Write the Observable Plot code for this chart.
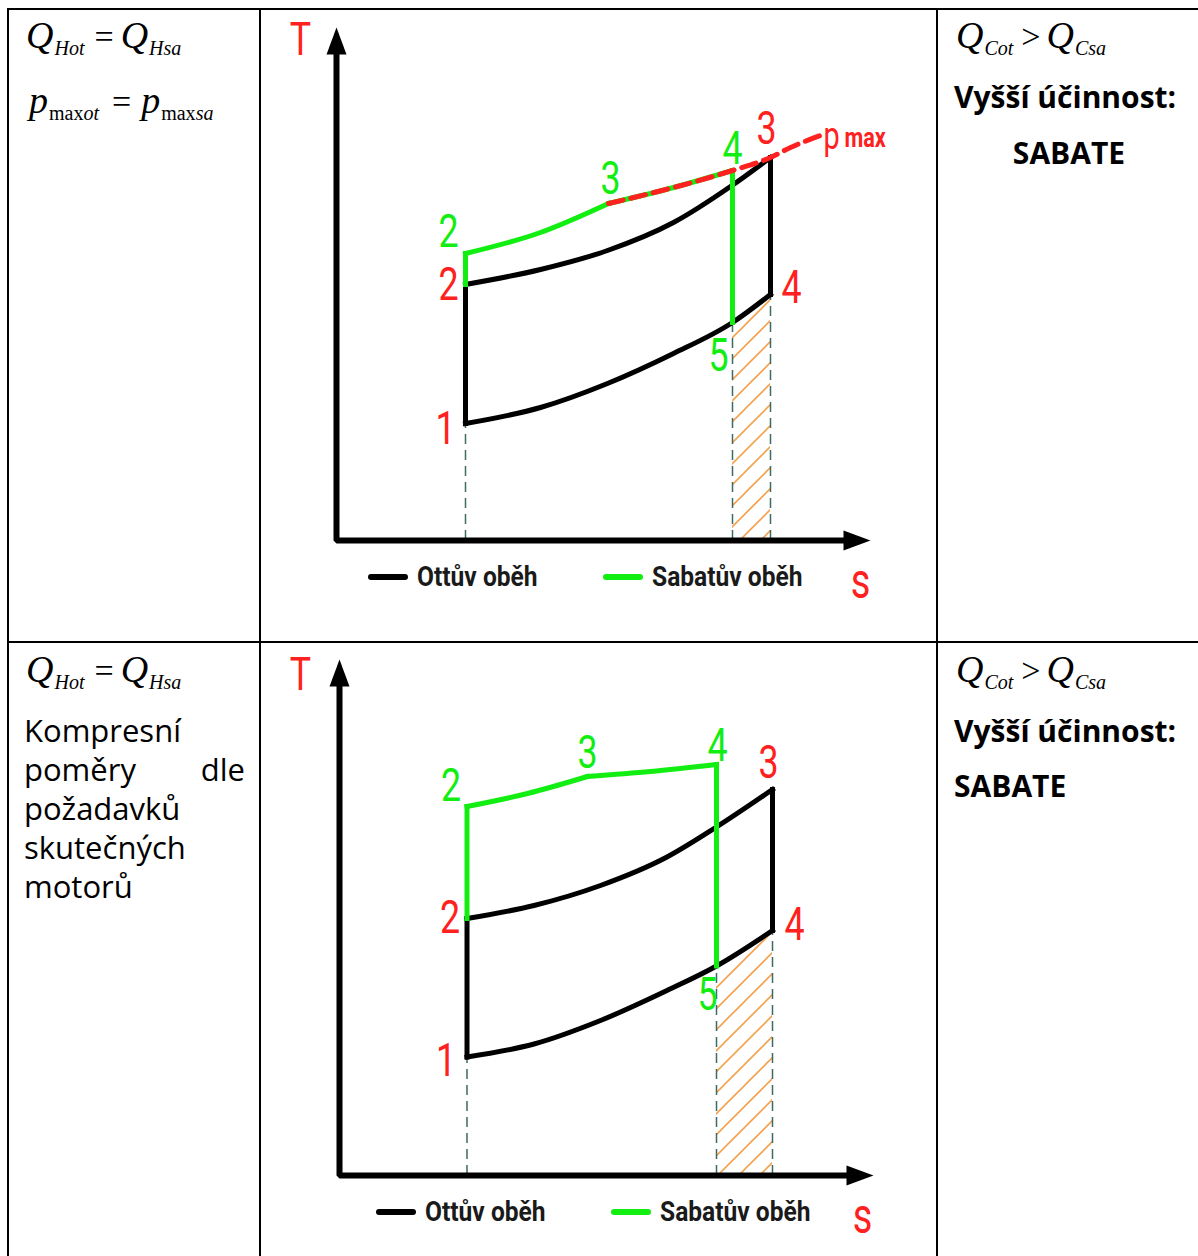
<!DOCTYPE html>
<html lang="cs">
<head>
<meta charset="utf-8">
<title>Ottův a Sabatův oběh v T–s diagramu</title>
<script src="https://cdn.jsdelivr.net/npm/d3@7"></script>
<script src="https://cdn.jsdelivr.net/npm/@observablehq/plot@0.6"></script>
<style>
  html, body { margin: 0; padding: 0; background: #fff; }
  #page { position: relative; width: 1198px; height: 1256px; overflow: hidden; }
  .rule { position: absolute; background: #000; }
  .abs { position: absolute; white-space: nowrap; }
  .math { font-family: "Liberation Serif", "Times New Roman", serif; font-size: 38px; line-height: 38px; color: #000; }
  .math i { font-style: italic; }
  .math .sub { font-size: 20px; position: relative; top: 7px; margin-left: 1px; }
  .math .op { display: inline-block; margin: 0 7px 0 10px; font-size: 34px; }
  .math.wide .op { margin: 0 10px 0 13px; }
  .math.tight .op { margin: 0 6px 0 8px; }
  .note { font-family: "Open Sans", sans-serif; font-size: 31px; line-height: 39px; color: #000; text-align: justify; white-space: normal; }
  .verdict { font-family: "Open Sans", sans-serif; font-weight: 700; font-size: 30px; line-height: 30px; color: #000; }
  .legend { position: absolute; display: flex; align-items: center; height: 30px;
            font-family: "Roboto", sans-serif; font-weight: 700; font-size: 27px; color: #1a1a1a; white-space: nowrap; }
  .legend .item { display: flex; align-items: center; width: 235px; }
  .legend .sw { width: 40px; height: 6px; border-radius: 3px; margin-right: 9px; flex: none; }
  .legend .name { display: inline-block; transform: scaleX(0.91); transform-origin: 0 50%; }
</style>
</head>
<body>
<div id="page"></div>
<script>
// ---------- T–s diagrams: drawing units, 1 unit = 5 px on both axes ----------

// Diagram A – both cycles reach the same peak pressure p_max
const sAxisA = 106.8, TAxisA = 102.6;
const ottoStatesA = [
  {n: "1", s: 25.8, T: 23.4}, {n: "2", s: 25.8, T: 51.2},
  {n: "3", s: 86.8, T: 76.6}, {n: "4", s: 86.8, T: 49.2}
];
const sabateStatesA = [
  {n: "2", s: 25.8, T: 57.4}, {n: "3", s: 54.4, T: 67.4},
  {n: "4", s: 79.2, T: 74.0}, {n: "5", s: 79.2, T: 43.6}
];
const ottoHeatA = [[25.8, 51.2], [40.8, 54.2], [54.2, 58.0], [67.4, 63.6], [78.8, 70.8], [86.8, 76.6]];
const ottoRejectA = [[25.8, 23.4], [40.8, 26.6], [54.2, 31.4], [67.4, 37.4], [79.2, 43.6], [86.8, 49.2]];
const sabateIsochoreA = [[25.8, 57.4], [40.8, 61.6], [54.4, 67.4]];
const sabateIsobarA = [[54.4, 67.4], [67.4, 70.6], [79.2, 74.0]];
const pmaxA = [[54.4, 67.4], [67.4, 70.6], [79.2, 74.0], [86.8, 76.6], [90.8, 78.6], [96.8, 81.0]];

// Diagram B – compression ratios as used in real engines
const sAxisB = 106.8, TAxisB = 103.2;
const ottoStatesB = [
  {n: "1", s: 25.5, T: 23.7}, {n: "2", s: 25.5, T: 51.4},
  {n: "3", s: 86.6, T: 77.2}, {n: "4", s: 86.6, T: 49.0}
];
const sabateStatesB = [
  {n: "2", s: 25.5, T: 73.8}, {n: "3", s: 49.6, T: 79.8},
  {n: "4", s: 75.4, T: 82.2}, {n: "5", s: 75.4, T: 41.9}
];
const ottoHeatB = [[25.5, 51.4], [38.9, 54.0], [52.2, 58.0], [65.5, 63.7], [75.4, 69.7], [86.6, 77.2]];
const ottoRejectB = [[25.5, 23.7], [38.9, 26.3], [52.2, 31.0], [65.5, 37.0], [75.4, 41.9], [86.6, 49.0]];
const sabateIsochoreB = [[25.5, 73.8], [37.6, 76.4], [49.6, 79.8]];
const sabateIsobarB = [[49.6, 79.8], [62.2, 80.8], [75.4, 82.2]];

// Text of the table cells
const legendNames = ["Ottův oběh", "Sabatův oběh"];
const verdictTitle = "Vyšší účinnost:";
const verdictName = "SABATE";
const noteB = "Kompresní poměry dle požadavků skutečných motorů";

// ---------- styling ----------
const BLACK = "#000", GREEN = "#12ee12", RED = "#ff2020", GUIDE = "#3d6a63", HATCH = "#f4a24e";
const labelFont = {fontFamily: "Roboto, sans-serif", fontWeight: 400, fontSize: 47};
const NARROW = 0.76; // technical lettering is narrower than the available faces

// filled, elongated arrow head; tip at the origin, pointing up
const arrowHead = {
  draw(ctx) { ctx.moveTo(0, 0); ctx.lineTo(10, 27); ctx.lineTo(-10, 27); ctx.closePath(); }
};

const layoutA = {
  id: "hatchA", left: 262, top: 10, width: 674, height: 630, ox: 74, oy: 530,
  ottoLabels: [[-20, 5], [-17, 0], [-4, -29], [21, -7]],
  sabateLabels: [[-17, -22], [2, -25], [0, -22], [-14, 33]],
  tLabel: [-36, 12], sLabel: [-10, 41], pLabel: [11, 1], maxLabel: [24, 3],
  legend: {left: 368, cy: 577}
};
const layoutB = {
  id: "hatchB", left: 262, top: 644, width: 674, height: 612, ox: 77, oy: 531,
  ottoLabels: [[-21, 4], [-17, -1], [-4, -27], [22, -6]],
  sabateLabels: [[-16, -21], [0, -24], [1, -19], [-9, 29]],
  tLabel: [-39, 15], sLabel: [-11, 41],
  legend: {left: 376, cy: 1212}
};

function tsDiagram(d, L) {
  const [o1, o2, o3, o4] = d.otto;
  const [a2, , a4, a5] = d.sabate;
  const X = p => p[0], Y = p => p[1];
  const hatch = d.reject.filter(p => p[0] >= a5.s - 1e-9);
  const shaft = 4; // axis shafts stop inside the arrow heads
  const axes = [[0, d.TAxis - shaft], [0, 0], [d.sAxis - shaft, 0]];
  const seg = (a, b) => [[a.s, a.T], [b.s, b.T]];
  const stroke = (color, extra = {}) => ({x: X, y: Y, stroke: color, strokeWidth: 5, strokeLinecap: "square", ...extra});
  const labels = (states, offs, color) => states.map((p, i) =>
    Plot.text([p], {x: "s", y: "T", text: "n", dx: offs[i][0], dy: offs[i][1], fill: color, ...labelFont}));

  const marks = [
    Plot.areaY(hatch, {x: X, y1: 0, y2: Y, fill: `url(#${L.id})`}),
    Plot.ruleX([o1, a5, o4], {x: "s", y1: 0, y2: "T", stroke: GUIDE, strokeWidth: 1.5, strokeDasharray: "10,6"}),
    Plot.line(axes, {x: X, y: Y, stroke: BLACK, strokeWidth: 6, strokeLinejoin: "miter"}),
    Plot.dot([{s: 0, T: d.TAxis, a: 0}, {s: d.sAxis, T: 0, a: 90}],
      {x: "s", y: "T", symbol: arrowHead, rotate: "a", fill: BLACK, stroke: "none"}),
    // Otto cycle 1-2-3-4
    Plot.line(seg(o1, o2), stroke(BLACK)),
    Plot.line(d.heat, stroke(BLACK, {curve: "monotone-x"})),
    Plot.line(seg(o3, o4), stroke(BLACK)),
    Plot.line(d.reject, stroke(BLACK, {curve: "monotone-x"})),
    // Sabathé cycle 1-2-3-4-5 (parts that differ from Otto)
    Plot.line(seg(o2, a2), stroke(GREEN)),
    Plot.line(d.isochore, stroke(GREEN, {curve: "monotone-x"})),
    Plot.line(d.isobar, stroke(GREEN, {curve: "monotone-x"})),
    Plot.line(seg(a4, a5), stroke(GREEN))
  ];
  if (d.pmax) {
    const end = d.pmax[d.pmax.length - 1];
    marks.push(
      Plot.line(d.pmax, {x: X, y: Y, stroke: RED, strokeWidth: 5, strokeDasharray: "15,8", curve: "monotone-x"}),
      Plot.text([end], {x: X, y: Y, text: () => "p", dx: L.pLabel[0], dy: L.pLabel[1], fill: RED, ...labelFont, fontSize: 38}),
      Plot.text([end], {x: X, y: Y, text: () => "max", dx: L.maxLabel[0], dy: L.maxLabel[1], textAnchor: "start",
        fill: RED, fontFamily: labelFont.fontFamily, fontWeight: "bold", fontSize: 27})
    );
  }
  marks.push(
    ...labels(d.otto, L.ottoLabels, RED),
    ...labels(d.sabate, L.sabateLabels, GREEN),
    Plot.text([[0, d.TAxis]], {x: X, y: Y, text: () => "T", dx: L.tLabel[0], dy: L.tLabel[1], fill: RED, ...labelFont}),
    Plot.text([[d.sAxis, 0]], {x: X, y: Y, text: () => "s", dx: L.sLabel[0], dy: L.sLabel[1], fill: RED, ...labelFont, fontSize: 50})
  );

  const svg = Plot.plot({
    width: L.width, height: L.height,
    x: {domain: [0, 100], range: [L.ox, L.ox + 500], axis: null},
    y: {domain: [0, 100], range: [L.oy, L.oy - 500], axis: null},
    style: {background: "transparent", overflow: "visible", maxWidth: "none"},
    marks
  });
  const defs = document.createElementNS("http://www.w3.org/2000/svg", "defs");
  defs.innerHTML = `<pattern id="${L.id}" patternUnits="userSpaceOnUse" width="21" height="21">
      <path d="M0,21L21,0M-3,3L3,-3M18,24L24,18" stroke="${HATCH}" stroke-width="1.6" fill="none"/></pattern>`;
  svg.insertBefore(defs, svg.firstChild);
  Object.assign(svg.style, {position: "absolute", left: L.left + "px", top: L.top + "px"});
  return svg;
}

// squeeze the lettering horizontally once it is laid out
function condense(svg) {
  svg.querySelectorAll("text").forEach(t => {
    const w = t.getComputedTextLength();
    if (w > 0) {
      t.setAttribute("textLength", (w * (t.textContent === "max" ? 0.8 : NARROW)).toFixed(1));
      t.setAttribute("lengthAdjust", "spacingAndGlyphs");
    }
  });
}

function legend(L) {
  const el = document.createElement("div");
  el.className = "legend";
  el.style.left = L.legend.left + "px";
  el.style.top = (L.legend.cy - 15) + "px";
  [BLACK, GREEN].forEach((c, i) => {
    const item = document.createElement("div");
    item.className = "item";
    item.innerHTML = `<span class="sw" style="background:${c}"></span><span class="name">${legendNames[i]}</span>`;
    el.appendChild(item);
  });
  return el;
}

const page = document.getElementById("page");
function place(html, cls, left, top, extra = "") {
  const el = document.createElement("div");
  el.className = "abs " + cls;
  el.style.cssText += `left:${left}px;top:${top}px;${extra}`;
  el.innerHTML = html;
  page.appendChild(el);
  return el;
}

// table grid
const rules = [
  {l: 7, t: 8, w: 1191, h: 2},     // top
  {l: 7, t: 8, w: 2, h: 1248},     // left
  {l: 259, t: 8, w: 2, h: 1248},   // after first column
  {l: 936, t: 8, w: 2, h: 1248},   // after second column
  {l: 7, t: 641, w: 1191, h: 2}    // between rows
];
rules.forEach(r => {
  const el = document.createElement("div");
  el.className = "rule";
  el.style.cssText = `left:${r.l}px;top:${r.t}px;width:${r.w}px;height:${r.h}px`;
  page.appendChild(el);
});

// formulas
const qHeat = `<i>Q</i><span class="sub"><i>Hot</i></span><span class="op">=</span><i>Q</i><span class="sub"><i>Hsa</i></span>`;
const pMax = `<i>p</i><span class="sub">max<i>ot</i></span><span class="op">=</span><i>p</i><span class="sub">max<i>sa</i></span>`;
const qCool = `<i>Q</i><span class="sub"><i>Cot</i></span><span class="op">&gt;</span><i>Q</i><span class="sub"><i>Csa</i></span>`;

// row 1
place(qHeat, "math", 26, 16);
place(pMax, "math wide", 29, 81);
place(qCool, "math tight", 956, 16);
place(verdictTitle, "verdict", 954, 82);
place(verdictName, "verdict", 940, 138, "width:258px;text-align:center;");
// row 2
place(qHeat, "math", 26, 650);
place(noteB, "note", 24, 711, "width:221px;");
place(qCool, "math tight", 956, 650);
place(verdictTitle, "verdict", 954, 716);
place(verdictName, "verdict", 954, 771);

// diagrams
const svgA = tsDiagram({
  sAxis: sAxisA, TAxis: TAxisA, otto: ottoStatesA, sabate: sabateStatesA,
  heat: ottoHeatA, reject: ottoRejectA, isochore: sabateIsochoreA, isobar: sabateIsobarA, pmax: pmaxA
}, layoutA);
page.appendChild(svgA);
page.appendChild(legend(layoutA));
const svgB = tsDiagram({
  sAxis: sAxisB, TAxis: TAxisB, otto: ottoStatesB, sabate: sabateStatesB,
  heat: ottoHeatB, reject: ottoRejectB, isochore: sabateIsochoreB, isobar: sabateIsobarB
}, layoutB);
page.appendChild(svgB);
page.appendChild(legend(layoutB));
condense(svgA);
condense(svgB);
</script>
</body>
</html>
